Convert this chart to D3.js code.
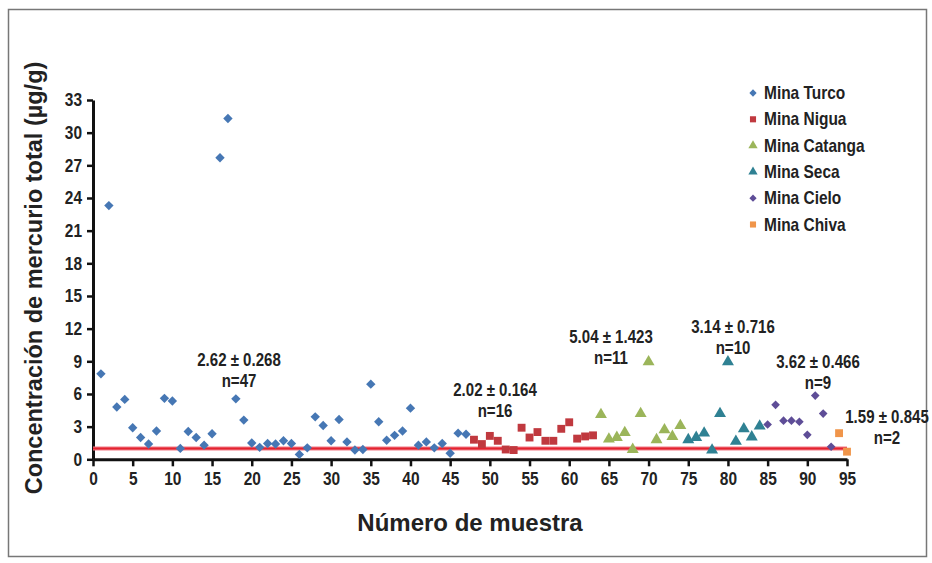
<!DOCTYPE html>
<html>
<head>
<meta charset="utf-8">
<script src="https://cdn.jsdelivr.net/npm/d3@7"></script>
<style>
  body { margin: 0; background: #fff; }
  svg text { font-family: 'Liberation Sans', Arial, sans-serif; font-weight: bold; fill: #222; }
</style>
</head>
<body>
<script>
// ----- data -----
const mineNames = ['Mina Turco', 'Mina Nigua', 'Mina Catanga', 'Mina Seca', 'Mina Cielo', 'Mina Chiva'];
const firstSample = [1, 48, 64, 75, 85, 94];

const turcoValues = [7.85, 23.3, 4.8, 5.5, 2.9, 2.0, 1.4, 2.6, 5.6, 5.35,
  1.0, 2.55, 2.0, 1.3, 2.35, 27.7, 31.3, 5.55, 3.6, 1.5,
  1.1, 1.45, 1.4, 1.7, 1.45, 0.45, 1.05, 3.9, 3.1, 1.7,
  3.65, 1.6, 0.85, 0.9, 6.9, 3.45, 1.75, 2.2, 2.6, 4.7,
  1.3, 1.6, 1.05, 1.45, 0.55, 2.4, 2.3];
const niguaValues = [1.8, 1.4, 2.15, 1.7, 0.9, 0.85, 2.9, 2.0, 2.5, 1.7, 1.7, 2.8, 3.4, 1.9, 2.1, 2.2];
const catangaValues = [4.1, 1.85, 2.0, 2.45, 0.9, 4.2, 8.95, 1.8, 2.7, 2.1, 3.1];
const secaValues = [1.8, 2.0, 2.4, 0.85, 4.2, 8.95, 1.65, 2.8, 2.05, 3.05];
const cieloValues = [3.2, 5.0, 3.55, 3.55, 3.45, 2.25, 5.85, 4.2, 1.15];
const chivaValues = [2.4, 0.7];

const seriesValues = [turcoValues, niguaValues, catangaValues, secaValues, cieloValues, chivaValues];

const summaryLines = [
  ['2.62 ± 0.268', 'n=47'],
  ['2.02 ± 0.164', 'n=16'],
  ['5.04 ± 1.423', 'n=11'],
  ['3.14 ± 0.716', 'n=10'],
  ['3.62 ± 0.466', 'n=9'],
  ['1.59 ± 0.845', 'n=2']
];

const yTicks = d3.range(0, 34, 3);
const xTicks = d3.range(0, 96, 5);
const referenceLevel = 1.0;

// ----- styling -----
const colors = ['#4677b4', '#c0393f', '#9bb55a', '#2f8193', '#5e4d97', '#f0954a'];
const shapes = ['diamond', 'square', 'triangle', 'triangle', 'diamond', 'square'];
const narrow = 0.86;   // fake a condensed face: the figure uses a narrow bold font

document.addEventListener('DOMContentLoaded', () => {
  const W = 932, H = 563;

  const svg = d3.select('body').append('svg')
    .attr('width', W)
    .attr('height', H);

  // frame round the picture
  svg.append('rect')
    .attr('x', 8.5).attr('y', 9.5)
    .attr('width', 918).attr('height', 547)
    .attr('fill', '#fff')
    .attr('stroke', '#777')
    .attr('stroke-width', 1.5);

  const x = d3.scaleLinear().domain([0, 95]).range([93, 847]);
  const y = d3.scaleLinear().domain([0, 33]).range([459.3, 100]);

  // narrow text helper
  const label = (parent, px, py, txt, size, anchor) =>
    parent.append('text')
      .attr('transform', `translate(${px},${py}) scale(${narrow},1)`)
      .attr('text-anchor', anchor || 'middle')
      .style('font-size', size + 'px')
      .text(txt);

  // ----- axes -----
  const yAxis = svg.append('g')
    .attr('transform', `translate(${x(0)},0)`)
    .call(d3.axisLeft(y).tickValues(yTicks).tickSize(6).tickSizeOuter(0).tickPadding(4));

  const xAxis = svg.append('g')
    .attr('transform', `translate(0,${y(0)})`)
    .call(d3.axisBottom(x).tickValues(xTicks).tickSize(7).tickSizeOuter(0).tickPadding(6));

  [yAxis, xAxis].forEach(g => {
    g.select('.domain').attr('stroke', '#111').attr('stroke-width', 3);
    g.selectAll('.tick line').attr('stroke', '#111').attr('stroke-width', 2.5);
    g.selectAll('.tick text')
      .attr('fill', '#222')
      .style('font-size', '18px');
  });
  yAxis.selectAll('.tick text').attr('x', -11 / narrow).attr('transform', `scale(${narrow},1)`);
  xAxis.selectAll('.tick text').attr('transform', `scale(${narrow},1)`);

  // reference line
  svg.append('line')
    .attr('x1', x(0)).attr('x2', x(95))
    .attr('y1', y(referenceLevel)).attr('y2', y(referenceLevel))
    .attr('stroke', '#f17a86')
    .attr('stroke-width', 4);
  svg.append('line')
    .attr('x1', x(0)).attr('x2', x(95))
    .attr('y1', y(referenceLevel)).attr('y2', y(referenceLevel))
    .attr('stroke', '#e3232f')
    .attr('stroke-width', 2);

  // ----- markers -----
  const symbolPath = (shape, scale) => {
    if (shape === 'diamond') return d3.symbol(d3.symbolSquare, 44 * scale)();
    if (shape === 'square') return d3.symbol(d3.symbolSquare, 62 * scale)();
    return d3.symbol(d3.symbolTriangle, 62 * scale)();
  };

  seriesValues.forEach((vals, i) => {
    const pts = vals.map((v, j) => ({ n: firstSample[i] + j, v: v }));
    svg.append('g').selectAll('path')
      .data(pts)
      .join('path')
      .attr('d', symbolPath(shapes[i], i === 4 ? 0.85 : 1))
      .attr('fill', colors[i])
      .attr('transform', d => `translate(${x(d.n)},${y(d.v)})` + (shapes[i] === 'diamond' ? ' rotate(45)' : ''));
  });

  // ----- summary labels -----
  const labelPos = [[239, 366], [495, 396], [611, 343], [733, 333], [818, 368], [887, 423]];
  summaryLines.forEach((lines, i) => {
    lines.forEach((t, k) => {
      label(svg, labelPos[i][0], labelPos[i][1] + k * 21, t, 17.5);
    });
  });

  // ----- legend -----
  const legend = svg.append('g').attr('transform', 'translate(753,93)');
  mineNames.forEach((name, i) => {
    const row = legend.append('g').attr('transform', `translate(0,${i * 26.3})`);
    row.append('path')
      .attr('d', symbolPath(shapes[i], 0.6))
      .attr('fill', colors[i])
      .attr('transform', shapes[i] === 'diamond' ? 'rotate(45)' : null);
    label(row, 11, 6, name, 18, 'start');
  });

  // ----- axis titles -----
  svg.append('text')
    .attr('x', 470)
    .attr('y', 531)
    .attr('text-anchor', 'middle')
    .style('font-size', '24px')
    .text('Número de muestra');

  svg.append('text')
    .attr('transform', 'translate(42,278) rotate(-90)')
    .attr('text-anchor', 'middle')
    .style('font-size', '23.5px')
    .text('Concentración de mercurio total (µg/g)');
});
</script>
</body>
</html>
